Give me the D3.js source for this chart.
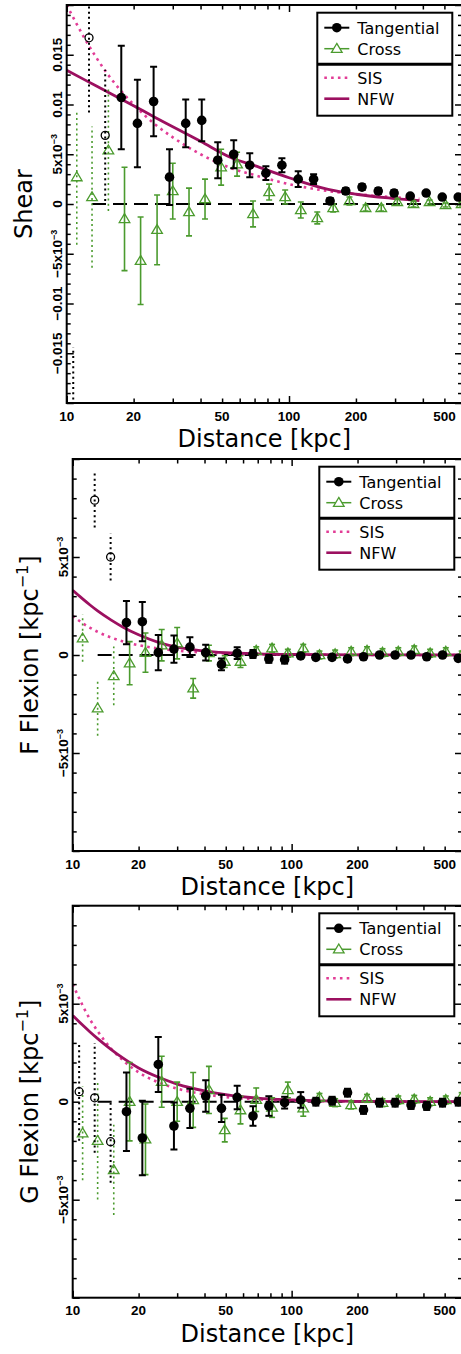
<!DOCTYPE html>
<html>
<head>
<meta charset="utf-8">
<script src="https://cdn.jsdelivr.net/npm/d3@7"></script>
<style>
  body { margin: 0; background: #fff; }
  svg { display: block; }
</style>
</head>
<body>
<div id="chart"></div>
<script>
// radial bins (kpc); cross points are plotted slightly shifted to the right
const binR   = [10.7, 12.6, 14.9, 17.6, 20.8, 24.6, 29.0, 34.3, 40.5, 47.8, 56.4, 66.6, 78.7, 92.9, 110, 129, 153, 180, 213, 252, 297, 351, 414, 489, 577];
const crossR = [11.1, 13.0, 15.4, 18.2, 21.5, 25.5, 30.0, 35.5, 41.9, 49.5, 58.4, 68.9, 81.4, 96.1, 113, 134, 158, 187, 221, 260, 307, 363, 429, 506, 598];
const nExcluded = 3; // innermost bins, drawn open / dotted

// shear
const shearTan      = [-0.028, 0.0167, 0.0069, 0.0107, 0.0081, 0.0103, 0.0027, 0.0081, 0.0084, 0.0044, 0.0050, 0.0039, 0.0031, 0.0039, 0.0025, 0.0025, 0.0003, 0.0013, 0.0017, 0.0013, 0.0011, 0.0008, 0.0011, 0.0007, 0.0007];
const shearTanErr   = [0.0136, 0.0075, 0.0066, 0.0052, 0.0044, 0.0035, 0.0028, 0.0024, 0.0021, 0.0018, 0.0014, 0.0012, 0.0007, 0.0007, 0.0008, 0.0005, 0.0003, 0.0003, 0.0003, 0.0003, 0.0003, 0.0002, 0.0002, 0.0002, 0.0002];
const shearCross    = [0.0027, 0.0007, 0.0054, -0.0015, -0.0057, -0.0026, 0.0013, -0.0008, 0.0005, 0.0037, 0.0040, -0.0010, 0.0012, 0.0007, -0.0006, -0.0014, -0.0004, 0.0003, -0.0004, -0.0004, 0.0002, 0.0000, 0.0002, -0.0001, 0.0000];
const shearCrossErr = [0.0068, 0.0071, 0.0061, 0.0052, 0.0044, 0.0035, 0.0028, 0.0024, 0.0020, 0.0018, 0.0012, 0.0013, 0.0008, 0.0007, 0.0008, 0.0006, 0.0004, 0.0004, 0.0003, 0.0003, 0.0003, 0.0003, 0.0002, 0.0002, 0.0002];

// F flexion
const fTan      = [null, 0.0079, 0.0050, 0.00165, 0.0017, 0.00012, 0.0003, 0.0004, 0.00012, -0.00048, 0.00009, 0.00005, -0.0002, -0.00024, -0.00005, -0.00012, -0.00012, -0.0002, -0.00009, 0, 0, 0, -0.00009, 0, -0.00017];
const fTanErr   = [0, 0.0014, 0.0012, 0.0011, 0.0010, 0.0009, 0.0007, 0.0005, 0.0004, 0.0003, 0.0003, 0.0002, 0.0002, 0.0002, 0.0001, 0.0001, 0.0001, 0.0001, 0.0001, 0.0001, 0.0001, 0.0001, 0.0001, 0.0001, 0.0001];
const fCross    = [0.00085, -0.00272, -0.00107, -0.00042, 0.00012, 0.0005, 0.0006, -0.0017, 0.0001, -0.00034, -0.00034, 0.00022, 0.00034, 0.00009, 0.00034, 0, 0.00005, 0.00017, 0.00022, 0.00012, 0.00017, 0.00026, 0.00009, 0.00017, 0];
const fCrossErr = [0.0012, 0.0014, 0.0015, 0.0011, 0.0010, 0.0008, 0.0008, 0.0005, 0.0004, 0.0003, 0.0003, 0.0002, 0.0002, 0.0002, 0.0002, 0.0002, 0.0002, 0.0002, 0.0002, 0.0002, 0.0002, 0.0002, 0.0002, 0.0002, 0.0002];

// G flexion
const gTan      = [0.00051, 0.0002, -0.00204, -0.00051, -0.00185, 0.0019, -0.00124, -0.00034, 0.00029, -0.00034, 0.00022, -0.00073, -0.00022, -0.00005, 0.00009, 0, 0.00005, 0.00046, -0.00042, -0.00005, -0.00005, -0.00017, -0.00022, -0.00005, 0];
const gTanErr   = [0.0025, 0.0028, 0.0021, 0.0020, 0.0019, 0.0014, 0.0012, 0.0010, 0.0008, 0.0007, 0.0006, 0.0005, 0.0005, 0.0003, 0.0004, 0.0002, 0.0002, 0.0002, 0.0002, 0.0002, 0.0002, 0.0002, 0.0002, 0.0002, 0.0002];
const gCross    = [-0.00161, -0.00199, -0.00348, 0, -0.00192, 0.00102, 0, 0.00009, 0.0006, -0.00145, -0.00043, 0.0001, -0.0003, 0.0006, -0.00034, 0.00022, -0.00005, -0.00017, 0.00017, -0.00005, 0.00009, 0.00012, 0, 0.00009, 0.00026];
const gCrossErr = [0.0024, 0.0030, 0.0023, 0.0020, 0.0018, 0.0013, 0.0010, 0.0014, 0.0012, 0.0006, 0.0007, 0.0006, 0.0005, 0.0004, 0.0004, 0.0002, 0.0002, 0.0002, 0.0002, 0.0002, 0.0002, 0.0002, 0.0002, 0.0002, 0.0002];

// model curves
const modelR1  = [10, 12, 15, 20, 25, 30, 40, 55, 70, 100, 150, 200, 300, 386];
const sisShear = [0.0200, 0.0167, 0.0133, 0.0100, 0.0080, 0.0067, 0.0050, 0.0036, 0.0029, 0.0020, 0.0013, 0.0010, 0.00067, 0.00052];
const nfwShear = [0.01345, 0.0125, 0.01136, 0.00988, 0.0087, 0.00777, 0.0063, 0.00465, 0.00385, 0.00264, 0.00146, 0.00098, 0.00055, 0.00033];
const modelR2  = [10, 11, 12, 13, 15, 17, 20, 25, 30, 40, 50, 70, 100, 200, 600];
const sisF     = [0.0020, 0.00165, 0.00139, 0.00118, 0.00089, 0.00069, 0.0005, 0.00032, 0.00022, 0.000125, 0.00008, 0.00004, 0.00002, 0.000005, 0];
const nfwF     = [0.0033, 0.0029, 0.00255, 0.00225, 0.00178, 0.00142, 0.00103, 0.00062, 0.0004, 0.0002, 0.00012, 0.00006, 0.00003, 0.00001, 0];
const sisG     = [0.0060, 0.0050, 0.0042, 0.0036, 0.0027, 0.0021, 0.0015, 0.00096, 0.00067, 0.00038, 0.00024, 0.00012, 0.00006, 0.000015, 0];
const nfwG     = [0.0044, 0.00395, 0.00356, 0.00322, 0.00266, 0.00222, 0.00172, 0.00122, 0.0009, 0.00055, 0.00036, 0.00018, 0.00009, 0.00002, 0];

const xTickLabels = [10, 20, 50, 100, 200, 500];
const shearTickLabels = [0.015, 0.01, 0.005, 0, -0.005, -0.01, -0.015];
const flexTickLabels = [0.005, 0, -0.005];
const legendLabels = ["Tangential", "Cross", "SIS", "NFW"];

const GREEN = "#4b9b2e", PINK = "#e23c96", MAROON = "#9c1060";
const FONT = "'Liberation Sans', Arial, sans-serif";
const TFONT = "'DejaVu Sans', sans-serif";

const svg = d3.select("#chart").append("svg")
    .attr("width", 461)
    .attr("height", 1354);
const defs = svg.append("defs");

const panels = [
  { top: 5, bottom: 403, left: 66.7, right: 462, yMax: 0.02, yLabels: shearTickLabels,
    title: "Shear", sup: null, tan: shearTan, tanErr: shearTanErr, cross: shearCross, crossErr: shearCrossErr,
    modelR: modelR1, sis: sisShear, nfw: nfwShear, lx: 317.3, ly: 12.7 },
  { top: 459, bottom: 851, left: 72.7, right: 462, yMax: 0.01, yLabels: flexTickLabels,
    title: "F Flexion [kpc", sup: "\u22121", tan: fTan, tanErr: fTanErr, cross: fCross, crossErr: fCrossErr,
    modelR: modelR2, sis: sisF, nfw: nfwF, lx: 319.3, ly: 466.7 },
  { top: 905.7, bottom: 1297.7, left: 72.7, right: 462, yMax: 0.01, yLabels: flexTickLabels,
    title: "G Flexion [kpc", sup: "\u22121", tan: gTan, tanErr: gTanErr, cross: gCross, crossErr: gCrossErr,
    modelR: modelR2, sis: sisG, nfw: nfwG, lx: 319.3, ly: 913.3 }
];

const triPath = "M0,-5.3L5.3,3.6L-5.3,3.6Z";

function tickText(sel, v) {
  if (v === 0) { sel.text("0"); return; }
  const neg = v < 0 ? "\u2212" : "";
  const a = Math.abs(v);
  if (Math.abs(a - 0.005) < 1e-9) {
    sel.append("tspan").text(neg + "5x10");
    sel.append("tspan").attr("dy", -5).attr("font-size", 9).text("\u22123");
  } else {
    sel.text(neg + String(a));
  }
}

function errorBars(plot, pts, color, width, cap) {
  pts.forEach(d => {
    const y1 = d.y(d.v - d.e), y2 = d.y(d.v + d.e);
    const bar = plot.append("line")
        .attr("x1", d.px).attr("x2", d.px).attr("y1", y1).attr("y2", y2)
        .attr("stroke", color).attr("stroke-width", width);
    if (d.excl) {
      bar.attr("stroke-dasharray", "2,3.2");
    } else {
      [y1, y2].forEach(yy => plot.append("line")
          .attr("x1", d.px - cap / 2).attr("x2", d.px + cap / 2)
          .attr("y1", yy).attr("y2", yy)
          .attr("stroke", color).attr("stroke-width", width));
    }
  });
}

panels.forEach((p, i) => {
  const x = d3.scaleLog().domain([10, 600]).range([p.left, p.right]);
  const y = d3.scaleLinear().domain([-p.yMax, p.yMax]).range([p.bottom, p.top]);
  const g = svg.append("g");

  defs.append("clipPath").attr("id", "clip" + i)
    .append("rect")
      .attr("x", p.left).attr("y", p.top)
      .attr("width", p.right - p.left).attr("height", p.bottom - p.top);
  const plot = g.append("g").attr("clip-path", `url(#clip${i})`);

  // zero line
  plot.append("line")
      .attr("x1", x(13)).attr("x2", x(600))
      .attr("y1", y(0)).attr("y2", y(0))
      .attr("stroke", "#000").attr("stroke-width", 2)
      .attr("stroke-dasharray", "14,7");

  // models
  const line = d3.line().x(d => x(d[0])).y(d => y(d[1])).curve(d3.curveMonotoneX);
  plot.append("path")
      .attr("d", line(p.modelR.map((r, j) => [r, p.sis[j]])))
      .attr("fill", "none").attr("stroke", PINK)
      .attr("stroke-width", 2.6).attr("stroke-dasharray", "2.6,4.2");
  plot.append("path")
      .attr("d", line(p.modelR.map((r, j) => [r, p.nfw[j]])))
      .attr("fill", "none").attr("stroke", MAROON)
      .attr("stroke-width", 2.8);

  // cross
  const crossPts = p.cross.map((v, j) => ({ px: x(crossR[j]), v: v, e: p.crossErr[j], excl: j < nExcluded, y: y }));
  errorBars(plot, crossPts, GREEN, 1.6, 6);
  plot.selectAll("path.tri")
    .data(crossPts)
    .join("path")
      .attr("class", "tri")
      .attr("d", triPath)
      .attr("transform", d => `translate(${d.px},${y(d.v)})`)
      .attr("fill", "none").attr("stroke", GREEN).attr("stroke-width", 1.3);

  // tangential
  const tanPts = p.tan.map((v, j) => ({ px: x(binR[j]), v: v, e: p.tanErr[j], excl: j < nExcluded, y: y }))
      .filter(d => d.v !== null);
  errorBars(plot, tanPts, "#000", 2, 7);
  plot.selectAll("circle.tan")
    .data(tanPts)
    .join("circle")
      .attr("class", "tan")
      .attr("cx", d => d.px).attr("cy", d => y(d.v))
      .attr("r", d => d.excl ? 4 : 4.8)
      .attr("fill", d => d.excl ? "none" : "#000")
      .attr("stroke", "#000").attr("stroke-width", d => d.excl ? 1.3 : 0);

  // ticks
  const minorX = [20, 30, 40, 50, 60, 70, 80, 90, 200, 300, 400, 500];
  const majorY = d3.range(-p.yMax, p.yMax + 1e-9, 0.005).map(v => +v.toFixed(4));
  const minorY = d3.range(-p.yMax, p.yMax + 1e-9, 0.001).map(v => +v.toFixed(4))
      .filter(v => !majorY.some(m => Math.abs(m - v) < 1e-9));
  const axes = [
    [d3.axisBottom(x).tickValues(minorX).tickSize(-4.5), p.bottom, 0],
    [d3.axisBottom(x).tickValues([10, 100]).tickSize(-7), p.bottom, 0],
    [d3.axisTop(x).tickValues(minorX).tickSize(-4.5), p.top, 0],
    [d3.axisTop(x).tickValues([10, 100]).tickSize(-7), p.top, 0],
    [d3.axisLeft(y).tickValues(minorY).tickSize(-4), 0, p.left],
    [d3.axisLeft(y).tickValues(majorY).tickSize(-7), 0, p.left],
    [d3.axisRight(y).tickValues(minorY).tickSize(-4), 0, p.right],
    [d3.axisRight(y).tickValues(majorY).tickSize(-7), 0, p.right]
  ];
  axes.forEach(([ax, ty, tx]) => {
    const a = g.append("g").attr("transform", `translate(${tx},${ty})`).call(ax.tickFormat(""));
    a.select(".domain").remove();
    a.selectAll("line").attr("stroke", "#000").attr("stroke-width", 1.5);
  });

  // frame
  g.append("rect")
      .attr("x", p.left).attr("y", p.top)
      .attr("width", p.right - p.left).attr("height", p.bottom - p.top)
      .attr("fill", "none").attr("stroke", "#000").attr("stroke-width", 2);

  // tick labels
  g.selectAll("text.xt")
    .data(xTickLabels)
    .join("text")
      .attr("class", "xt")
      .attr("x", d => x(d)).attr("y", p.bottom + 17.5)
      .attr("text-anchor", "middle")
      .attr("font-family", FONT).attr("font-weight", "bold").attr("font-size", 13.5)
      .text(d => d);
  p.yLabels.forEach(v => {
    const t = g.append("text")
        .attr("transform", `translate(${p.left - 5},${y(v)}) rotate(-90)`)
        .attr("text-anchor", "middle")
        .attr("font-family", FONT).attr("font-weight", "bold").attr("font-size", 13.5);
    tickText(t, v);
  });

  // axis titles
  g.append("text")
      .attr("x", (p.left + p.right) / 2).attr("y", p.bottom + 44)
      .attr("text-anchor", "middle")
      .attr("font-family", TFONT).attr("font-size", 24)
      .text("Distance [kpc]");
  const yt = g.append("text")
      .attr("transform", `translate(${p.left - 35},${(p.top + p.bottom) / 2}) rotate(-90)`)
      .attr("text-anchor", "middle")
      .attr("font-family", TFONT).attr("font-size", 24);
  yt.append("tspan").text(p.title);
  if (p.sup) {
    yt.append("tspan").attr("dy", -10).attr("font-size", 16).text(p.sup);
    yt.append("tspan").attr("dy", 10).text("]");
  }

  // legend
  const lg = g.append("g").attr("transform", `translate(${p.lx},${p.ly})`);
  lg.append("rect").attr("width", 135).attr("height", 103)
      .attr("fill", "#fff").attr("stroke", "#000").attr("stroke-width", 2);
  lg.append("line").attr("x1", 0).attr("x2", 135).attr("y1", 51.5).attr("y2", 51.5)
      .attr("stroke", "#000").attr("stroke-width", 3);
  const rows = [15, 36, 65, 86];
  lg.selectAll("text.lt")
    .data(legendLabels)
    .join("text")
      .attr("class", "lt")
      .attr("x", 40).attr("y", (d, j) => rows[j] + 6)
      .attr("font-family", TFONT).attr("font-size", 16)
      .text(d => d);
  lg.append("line").attr("x1", 7).attr("x2", 32).attr("y1", rows[0]).attr("y2", rows[0])
      .attr("stroke", "#000").attr("stroke-width", 2);
  lg.append("circle").attr("cx", 19.5).attr("cy", rows[0]).attr("r", 4.8).attr("fill", "#000");
  lg.append("line").attr("x1", 7).attr("x2", 32).attr("y1", rows[1]).attr("y2", rows[1])
      .attr("stroke", GREEN).attr("stroke-width", 1.5);
  lg.append("path").attr("d", triPath).attr("transform", `translate(19.5,${rows[1]})`)
      .attr("fill", "#fff").attr("stroke", GREEN).attr("stroke-width", 1.3);
  lg.append("line").attr("x1", 7).attr("x2", 32).attr("y1", rows[2]).attr("y2", rows[2])
      .attr("stroke", PINK).attr("stroke-width", 2.6).attr("stroke-dasharray", "2.6,4.2");
  lg.append("line").attr("x1", 7).attr("x2", 32).attr("y1", rows[3]).attr("y2", rows[3])
      .attr("stroke", MAROON).attr("stroke-width", 2.6);
});
</script>
</body>
</html>
